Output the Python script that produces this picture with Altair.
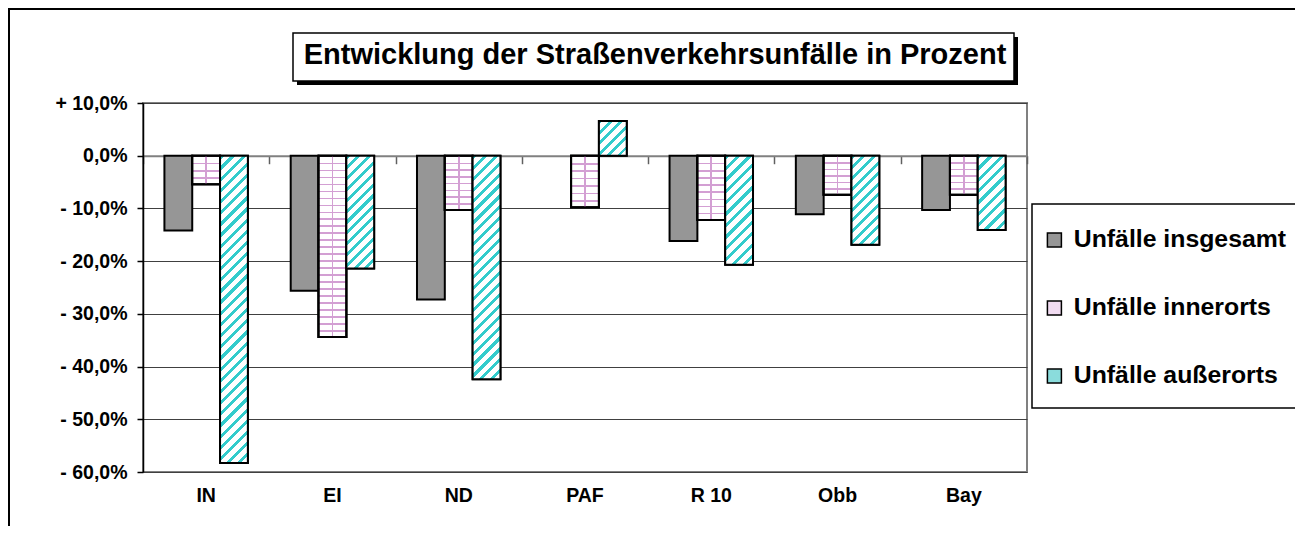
import altair as alt
import pandas as pd

# ---------------- data ----------------
categories = ["IN", "EI", "ND", "PAF", "R 10", "Obb", "Bay"]
series_names = ["Unfälle insgesamt", "Unfälle innerorts", "Unfälle außerorts"]
insgesamt = [-14.2, -25.6, -27.3, None, -16.2, -11.1, -10.3]
innerorts = [-5.4, -34.4, -10.3, -9.8, -12.2, -7.4, -7.4]
ausserorts = [-58.3, -21.4, -42.4, 6.6, -20.7, -16.9, -14.1]
y_ticks = [10, 0, -10, -20, -30, -40, -50, -60]
title_text = "Entwicklung der Straßenverkehrsunfälle in Prozent"

rows = []
for s, vals in zip(series_names, [insgesamt, innerorts, ausserorts]):
    for c, v in zip(categories, vals):
        if v is not None:
            rows.append({"cat": c, "series": s, "value": v})
df = pd.DataFrame(rows)

# ---------------- style ----------------
W, H = 884, 369
Y_MIN, Y_MAX = -60, 10
PAD_OUT = 0.77
FONT = "Liberation Sans"
GRAY = "#969696"
PINK = "#d39fd3"
CYAN = "#33cccc"

bar_w = W / len(categories) / (3 + 2 * PAD_OUT)
px_per_unit = H / (Y_MAX - Y_MIN)

x_scale = alt.Scale(domain=categories, paddingInner=0, paddingOuter=0)
xoff = alt.XOffset("series:N", sort=series_names,
                   scale=alt.Scale(domain=series_names, paddingInner=0, paddingOuter=PAD_OUT))
y_axis = alt.Axis(
    values=y_ticks, title=None,
    labelExpr="(datum.value > 0 ? '+ ' : datum.value < 0 ? '- ' : '') + "
              "replace(format(abs(datum.value), '.1f'), '.', ',') + '%'",
    grid=True, gridColor="#404040", gridWidth=1,
    domain=True, domainColor="black", domainWidth=1.5,
    ticks=True, tickSize=6, tickColor="black", tickWidth=1.5,
    labelFont=FONT, labelFontSize=19.5, labelFontWeight="bold",
    labelColor="black", labelPadding=10,
)
y_enc = alt.Y("value:Q", stack=None,
              scale=alt.Scale(domain=[Y_MIN, Y_MAX], nice=False, zero=False),
              axis=y_axis)

axis_labels = alt.Axis(title=None, domain=False, ticks=False, grid=False, labelAngle=0,
                       labelFont=FONT, labelFontSize=19.5, labelFontWeight="bold",
                       labelColor="black", labelPadding=14)
axis_zero = alt.Axis(title=None, orient="bottom", offset=-(H - Y_MAX * px_per_unit),
                     labels=False, grid=False, domain=True, domainColor="#808080",
                     domainWidth=2, ticks=True, tickBand="extent", tickSize=8,
                     tickColor="#606060", tickWidth=1.5)


def stripes(n, frac, c_on, c_off):
    stops = []
    for i in range(n):
        a, b, e = i / n, (i + frac) / n, (i + 1) / n
        stops += [{"offset": a, "color": c_on}, {"offset": b, "color": c_on},
                  {"offset": b, "color": c_off}, {"offset": e, "color": c_off}]
    return stops


one = alt.InlineData(values=[{"k": 0}])

# ---------------- decorations ----------------
frame = alt.Chart(one).mark_rect(fill="white", fillOpacity=0, stroke="black", strokeWidth=2).encode(
    x=alt.value(-134), x2=alt.value(1500), y=alt.value(-94), y2=alt.value(1000))
shadow = alt.Chart(one).mark_rect(fill="black").encode(
    x=alt.value(154), x2=alt.value(875), y=alt.value(-66), y2=alt.value(-18))
box = alt.Chart(one).mark_rect(fill="white", stroke="black", strokeWidth=1.5).encode(
    x=alt.value(150), x2=alt.value(871), y=alt.value(-70), y2=alt.value(-22))
title = alt.Chart(one).mark_text(text=title_text, font=FONT, fontSize=29, fontWeight="bold",
                                 color="black", align="center", baseline="alphabetic").encode(
    x=alt.value(512), y=alt.value(-39))
legend_box = alt.Chart(one).mark_rect(fill="white", stroke="black", strokeWidth=1.5).encode(
    x=alt.value(889), x2=alt.value(1154), y=alt.value(101), y2=alt.value(305))

# ---------------- bars ----------------
base = alt.Chart(df).mark_bar(stroke="black", strokeWidth=2).encode(
    x=alt.X("cat:N", sort=categories, scale=x_scale, axis=axis_labels),
    xOffset=xoff,
    y=y_enc,
    color=alt.Color(
        "series:N", sort=series_names,
        scale=alt.Scale(domain=series_names, range=[GRAY, "#f2dcf2", "#8adcdc"]),
        legend=alt.Legend(
            title=None, orient="none", legendX=879, legendY=104.5, direction="vertical",
            symbolType="square", symbolSize=196, symbolStrokeColor="black",
            symbolStrokeWidth=1.5, symbolOpacity=1,
            labelFont=FONT, labelFontSize=24.8, labelFontWeight="bold", labelColor="black",
            labelLimit=400, labelOffset=7, rowPadding=42, padding=20,
        ),
    ),
)

overlays = []
first = True
for s in series_names[1:]:
    vals = innerorts if s == series_names[1] else ausserorts
    for c, v in zip(categories, vals):
        if v is None:
            continue
        h = abs(v) * px_per_unit
        w = bar_w
        grads = []
        if s == series_names[1]:
            n = max(1, round(h / 7))
            grads.append({"gradient": "linear", "x1": 0, "y1": 0, "x2": 0, "y2": 1,
                          "stops": stripes(n, 1.6 / (h / n), PINK, "white")})
            grads.append({"gradient": "linear", "x1": 0, "y1": 0, "x2": 1, "y2": 0,
                          "stops": [{"offset": 0, "color": "rgba(255,255,255,0)"},
                                    {"offset": 0.47, "color": "rgba(255,255,255,0)"},
                                    {"offset": 0.47, "color": PINK},
                                    {"offset": 0.53, "color": PINK},
                                    {"offset": 0.53, "color": "rgba(255,255,255,0)"},
                                    {"offset": 1, "color": "rgba(255,255,255,0)"}]})
        else:
            k = (w + h) / (w * w + h * h)
            n = max(1, round((w + h) / 11))
            grads.append({"gradient": "linear", "x1": 0, "y1": 0, "x2": w * k, "y2": h * k,
                          "stops": stripes(n, 0.38, CYAN, "white")})
        for g in grads:
            ax = axis_zero if first else None
            first = False
            overlays.append(
                alt.Chart(df)
                .transform_filter((alt.datum.cat == c) & (alt.datum.series == s))
                .mark_bar(fill=g, stroke="black", strokeWidth=2)
                .encode(x=alt.X("cat:N", sort=categories, scale=x_scale, axis=ax),
                        xOffset=xoff, y=y_enc)
            )

chart = (
    alt.layer(frame, shadow, box, title, legend_box, base, *overlays)
    .resolve_axis(x="independent")
    .properties(
        width=W, height=H,
        padding={"left": 135, "top": 95, "right": 268, "bottom": 54},
        autosize=alt.AutoSizeParams(type="none"),
        background="white",
    )
    .configure_view(stroke="#808080", strokeWidth=2)
)

chart.save("out.html", embed_options={"renderer": "svg", "actions": False})
